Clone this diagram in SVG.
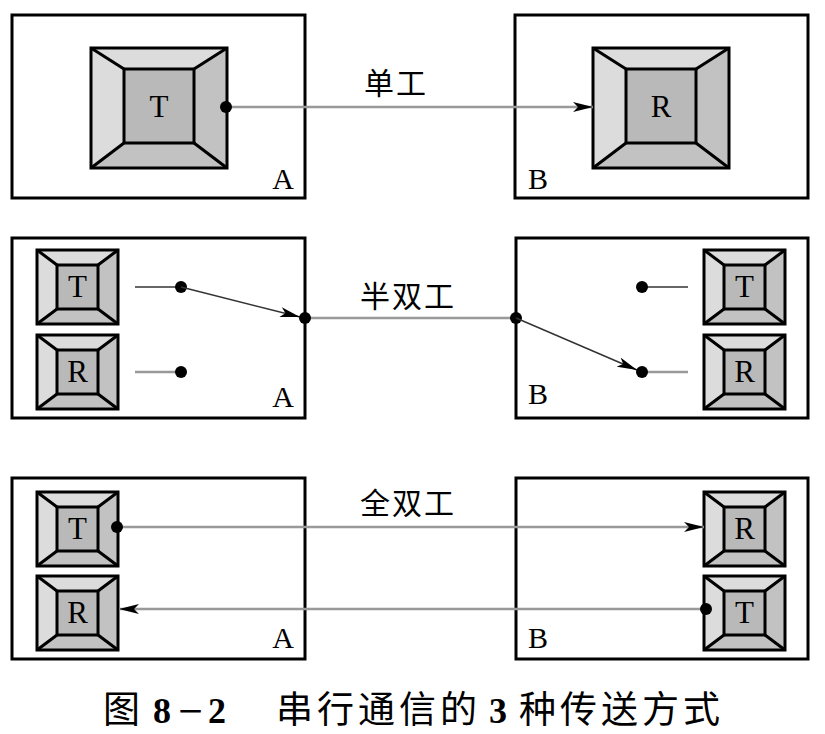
<svg xmlns="http://www.w3.org/2000/svg" width="825" height="734" viewBox="0 0 825 734">
<style>
.frame{fill:#fff;stroke:#000;stroke-width:3}
.lt{fill:#dcdcdc}.dk{fill:#c2c2c2}.in{fill:#b9b9b9}
.edge{fill:none;stroke:#000;stroke-width:3;stroke-linejoin:miter}
.lbl{font-family:"Liberation Serif",serif;font-size:30px;fill:#000;text-anchor:middle}
.dev{font-family:"Liberation Serif",serif;font-size:31px;fill:#000;text-anchor:middle}
.cjk{font-family:"Noto Sans CJK SC",sans-serif;font-size:30px;letter-spacing:2px;fill:#000}
.cap{font-family:"Noto Sans CJK SC",sans-serif;font-size:37px;letter-spacing:4px;fill:#000}
.num{font-family:"Liberation Serif",serif;font-weight:bold;font-size:36px;letter-spacing:0}
.gl{stroke:#999;stroke-width:2.5;fill:none}
.dl{stroke:#333;stroke-width:1.5;fill:none}
.dot{fill:#000}
</style>
<defs>
<marker id="ah" markerWidth="20" markerHeight="10" refX="20" refY="5" orient="auto" markerUnits="userSpaceOnUse">
<path d="M0,0 L20,5 L0,10 L5,5 Z" fill="#000"/>
</marker>
<g id="devS">
<polygon class="lt" points="0,0 81,0 61,15 20,15"/>
<polygon class="lt" points="0,0 20,15 20,59 0,74"/>
<polygon class="dk" points="81,0 81,74 61,59 61,15"/>
<polygon class="dk" points="0,74 20,59 61,59 81,74"/>
<rect class="in" x="20" y="15" width="41" height="44"/>
<rect class="edge" x="0" y="0" width="81" height="74"/>
<rect class="edge" x="20" y="15" width="41" height="44"/>
<path class="edge" d="M0,0 L20,15 M81,0 L61,15 M0,74 L20,59 M81,74 L61,59"/>
</g>
<g id="devL">
<polygon class="lt" points="0,0 136,0 103,21 33,21"/>
<polygon class="lt" points="0,0 33,21 33,95 0,120"/>
<polygon class="dk" points="136,0 136,120 103,95 103,21"/>
<polygon class="dk" points="0,120 33,95 103,95 136,120"/>
<rect class="in" x="33" y="21" width="70" height="74"/>
<rect class="edge" x="0" y="0" width="136" height="120"/>
<rect class="edge" x="33" y="21" width="70" height="74"/>
<path class="edge" d="M0,0 L33,21 M136,0 L103,21 M0,120 L33,95 M136,120 L103,95"/>
</g>
</defs>

<!-- frames -->
<g id="frameA1"><rect class="frame" x="12" y="15" width="293" height="183"/><text class="lbl" x="283" y="189">A</text></g>
<g id="frameB1"><rect class="frame" x="515" y="15" width="293" height="183"/><text class="lbl" x="538" y="189">B</text></g>
<g id="frameA2"><rect class="frame" x="12" y="238" width="293" height="180"/><text class="lbl" x="283" y="407">A</text></g>
<g id="frameB2"><rect class="frame" x="516" y="238" width="292" height="180"/><text class="lbl" x="538" y="404">B</text></g>
<g id="frameA3"><rect class="frame" x="12" y="478" width="293" height="181"/><text class="lbl" x="283" y="648">A</text></g>
<g id="frameB3"><rect class="frame" x="516" y="478" width="292" height="181"/><text class="lbl" x="538" y="648">B</text></g>

<!-- devices -->
<g id="T1" transform="translate(91,48)"><use href="#devL"/><text class="dev" x="68" y="69">T</text></g>
<g id="R1" transform="translate(593,48)"><use href="#devL"/><text class="dev" x="68" y="69">R</text></g>
<g id="T2A" transform="translate(37,250)"><use href="#devS"/><text class="dev" x="40.5" y="47">T</text></g>
<g id="R2A" transform="translate(37,335)"><use href="#devS"/><text class="dev" x="40.5" y="47">R</text></g>
<g id="T2B" transform="translate(704,250)"><use href="#devS"/><text class="dev" x="40.5" y="47">T</text></g>
<g id="R2B" transform="translate(704,335)"><use href="#devS"/><text class="dev" x="40.5" y="47">R</text></g>
<g id="T3A" transform="translate(37,492)"><use href="#devS"/><text class="dev" x="40.5" y="47">T</text></g>
<g id="R3A" transform="translate(37,576)"><use href="#devS"/><text class="dev" x="40.5" y="47">R</text></g>
<g id="R3B" transform="translate(704,492)"><use href="#devS"/><text class="dev" x="40.5" y="47">R</text></g>
<g id="T3B" transform="translate(704,576)"><use href="#devS"/><text class="dev" x="40.5" y="47">T</text></g>

<!-- connectors -->
<g id="connectors">
<line class="gl" x1="228" y1="107" x2="593" y2="107" marker-end="url(#ah)"/>
<circle class="dot" cx="226" cy="107" r="6"/>

<line class="dl" x1="135" y1="287" x2="181" y2="287"/>
<line class="gl" x1="135" y1="372" x2="181" y2="372"/>
<circle class="dot" cx="181" cy="287" r="6"/>
<circle class="dot" cx="181" cy="372" r="6"/>
<line class="dl" x1="181" y1="287" x2="300" y2="317" marker-end="url(#ah)"/>
<line class="gl" x1="305" y1="318" x2="516" y2="318"/>
<circle class="dot" cx="305" cy="318" r="6"/>
<circle class="dot" cx="516" cy="318" r="6"/>
<line class="dl" x1="516" y1="318" x2="637" y2="370" marker-end="url(#ah)"/>
<line class="dl" x1="642" y1="287" x2="688" y2="287"/>
<line class="gl" x1="642" y1="372" x2="688" y2="372"/>
<circle class="dot" cx="642" cy="287" r="6"/>
<circle class="dot" cx="642" cy="372" r="6"/>

<line class="gl" x1="118" y1="527" x2="704" y2="527" marker-end="url(#ah)"/>
<circle class="dot" cx="117" cy="527" r="6"/>
<line class="gl" x1="706" y1="609" x2="119" y2="609" marker-end="url(#ah)"/>
<circle class="dot" cx="706" cy="609" r="6"/>
</g>

<g id="labels">
<text class="cjk" x="364" y="94">单工</text>
<text class="cjk" x="360" y="307">半双工</text>
<text class="cjk" x="360" y="514">全双工</text>
</g>

<text id="caption" class="cap" y="723"><tspan x="103">图</tspan><tspan class="num" x="153">8</tspan><tspan class="num" x="178" textLength="25" lengthAdjust="spacingAndGlyphs">−</tspan><tspan class="num" x="208">2</tspan><tspan x="276">串行通信的</tspan><tspan class="num" x="489">3</tspan><tspan x="519">种传送方式</tspan></text>
</svg>
